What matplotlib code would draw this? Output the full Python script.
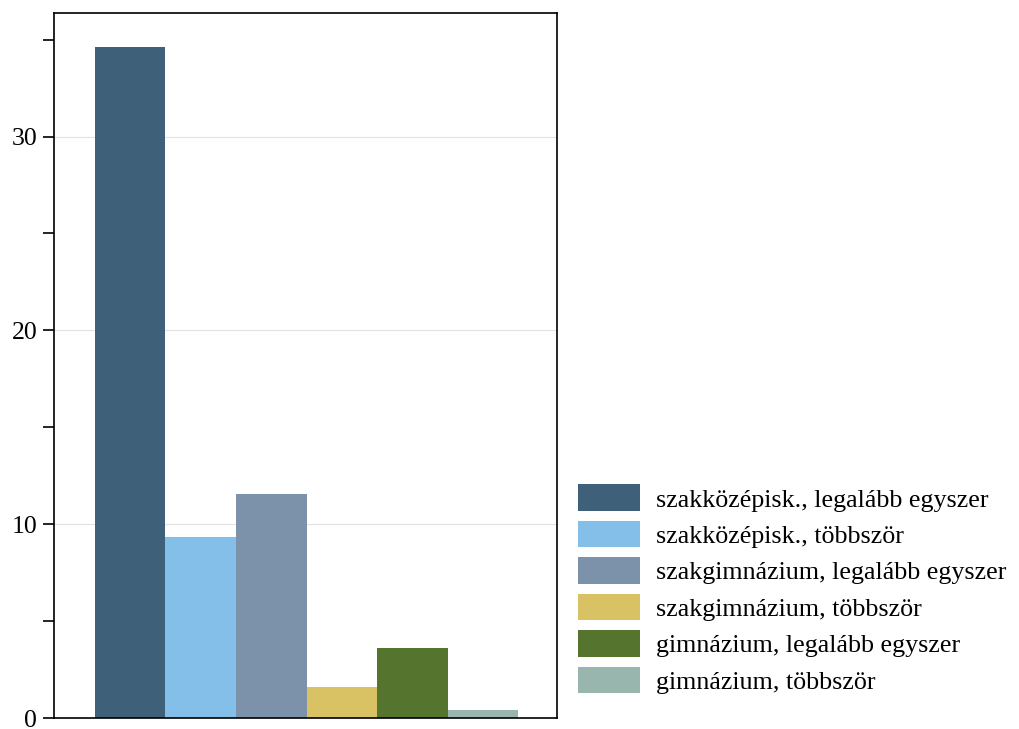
import matplotlib.pyplot as plt
from matplotlib.patches import Patch

plt.rcParams['font.family'] = ['Liberation Serif', 'DejaVu Serif']

# data
labels = ["szakközépisk., legalább egyszer",
          "szakközépisk., többször",
          "szakgimnázium, legalább egyszer",
          "szakgimnázium, többször",
          "gimnázium, legalább egyszer",
          "gimnázium, többször"]
values = [34.6, 9.35, 11.55, 1.6, 3.6, 0.42]
colors = ["#3e6179", "#83bfe8", "#7b92aa", "#d9c263", "#55752f", "#98b5ae"]
major_ticks = [0, 10, 20, 30]
minor_ticks = [5, 15, 25, 35]

fig = plt.figure(figsize=(10.19, 7.29), dpi=100)
ax = fig.add_axes([0.053, 0.0147, 0.4936, 0.9675])

x = list(range(len(values)))
ax.bar(x, values, width=1.0, color=colors, zorder=2)

ax.set_xlim(-1.08, 6.05)
ax.set_ylim(0, 36.37)
ax.set_xticks([])
ax.set_yticks(major_ticks)
ax.set_yticks(minor_ticks, minor=True)
ax.tick_params(axis='y', which='both', direction='out', length=8, width=1.2,
               labelsize=18.5, pad=4)
ax.yaxis.grid(True, which='major', color='#e2e2e2', linewidth=0.8, zorder=0)
ax.set_axisbelow(True)
for s in ax.spines.values():
    s.set_linewidth(1.2)
    s.set_color('black')

handles = [Patch(facecolor=c, edgecolor='none') for c in colors]
fig.legend(handles, labels, loc='center left', bbox_to_anchor=(0.567, 0.192),
           frameon=False, fontsize=18.7, handlelength=2.38, handleheight=1.2,
           handletextpad=0.65, labelspacing=0.36, borderpad=0, borderaxespad=0)

fig.savefig("out.png", dpi=100)
